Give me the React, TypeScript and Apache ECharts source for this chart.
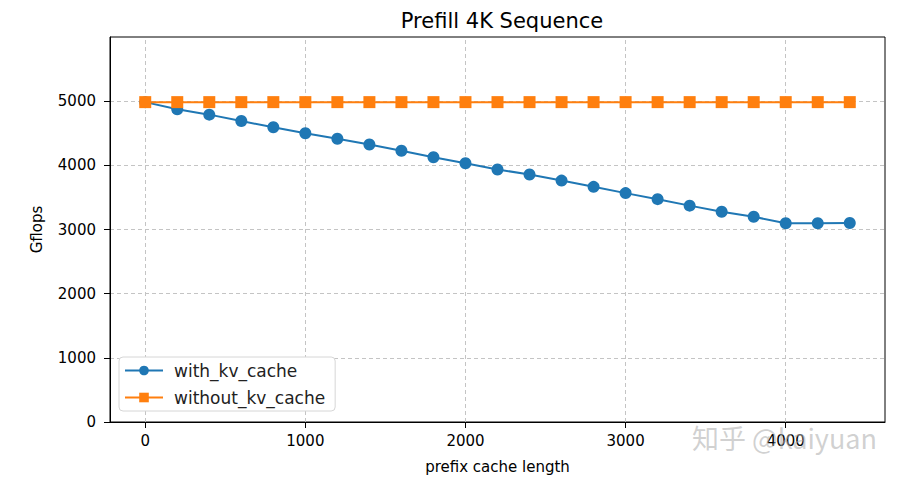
import React, { useEffect, useRef } from "react";
import * as echarts from "echarts";

// prefix cache length (x) and Gflops (y)
const prefixLengths = [
  0, 200, 400, 600, 800, 1000, 1200, 1400, 1600, 1800, 2000, 2200, 2400, 2600,
  2800, 3000, 3200, 3400, 3600, 3800, 4000, 4200, 4400,
];
const withKvCache = [
  4985, 4875, 4790, 4690, 4593, 4500, 4415, 4325, 4228, 4127, 4032, 3935, 3858,
  3762, 3665, 3567, 3473, 3372, 3276, 3198, 3097, 3097, 3102,
];
const withoutKvCache = prefixLengths.map(() => 4985);
const xTicks = [0, 1000, 2000, 3000, 4000];
const yTicks = [0, 1000, 2000, 3000, 4000, 5000];

const FONT = "DejaVu Sans";
const BLUE = "#1f77b4";
const ORANGE = "#ff7f0e";

const App: React.FC = () => {
  const ref = useRef<HTMLDivElement>(null);

  useEffect(() => {
    if (!ref.current) return;
    const chart = echarts.init(ref.current, null, { renderer: "svg" });

    const gridDash = {
      color: "#c4c4c4",
      type: [4, 3] as number[],
      width: 1,
    };

    chart.setOption({
      animation: false,
      textStyle: { fontFamily: FONT },
      title: {
        text: "Prefill 4K Sequence",
        left: 497,
        top: 5,
        textAlign: "center",
        textStyle: { fontFamily: FONT, fontSize: 21, fontWeight: "normal", color: "#000" },
      },
      grid: {
        left: 110,
        right: 14,
        top: 37,
        bottom: 59,
        show: true,
        borderColor: "#000",
        borderWidth: 1,
      },
      legend: {
        orient: "vertical",
        left: 119,
        top: 357,
        itemWidth: 38,
        itemHeight: 12,
        itemGap: 10,
        padding: [5, 10, 5, 5],
        backgroundColor: "#fff",
        borderColor: "#d6d6d6",
        borderWidth: 1,
        borderRadius: 4,
        textStyle: { fontFamily: FONT, fontSize: 17, color: "#222", padding: [0, 0, 0, 6] },
        data: ["with_kv_cache", "without_kv_cache"],
      },
      xAxis: {
        type: "value",
        min: -220,
        max: 4620,
        name: "prefix cache length",
        nameLocation: "middle",
        nameGap: 37,
        nameTextStyle: { fontFamily: FONT, fontSize: 15, color: "#000" },
        axisLine: { show: true, onZero: false, lineStyle: { color: "#000" } },
        axisTick: { show: true, length: 6, customValues: xTicks, lineStyle: { color: "#000" } },
        axisLabel: {
          customValues: xTicks,
          formatter: (v: number) => String(v),
          fontFamily: FONT,
          fontSize: 15,
          color: "#000",
          margin: 11,
        },
        splitLine: { show: false },
      },
      yAxis: {
        type: "value",
        min: 0,
        max: 6000,
        interval: 1000,
        name: "Gflops",
        nameLocation: "middle",
        nameGap: 66,
        nameTextStyle: { fontFamily: FONT, fontSize: 15, color: "#000" },
        axisLine: { show: true, onZero: false, lineStyle: { color: "#000" } },
        axisTick: { show: true, length: 6, customValues: yTicks, lineStyle: { color: "#000" } },
        axisLabel: {
          customValues: yTicks,
          formatter: (v: number) => String(v),
          fontFamily: FONT,
          fontSize: 15,
          color: "#000",
          margin: 14,
        },
        splitLine: { show: true, lineStyle: gridDash },
      },
      series: [
        {
          name: "with_kv_cache",
          type: "line",
          data: prefixLengths.map((x, i) => [x, withKvCache[i]]),
          color: BLUE,
          symbol: "circle",
          symbolSize: 12,
          lineStyle: { width: 2, color: BLUE },
          itemStyle: { color: BLUE },
          markLine: {
            silent: true,
            symbol: "none",
            label: { show: false },
            lineStyle: gridDash,
            z: 0,
            data: xTicks.map((x) => ({ xAxis: x })),
          },
        },
        {
          name: "without_kv_cache",
          type: "line",
          data: prefixLengths.map((x, i) => [x, withoutKvCache[i]]),
          color: ORANGE,
          symbol: "rect",
          symbolSize: 12,
          lineStyle: { width: 2, color: ORANGE },
          itemStyle: { color: ORANGE },
        },
      ],
      graphic: [
        {
          type: "text",
          right: 22,
          top: 424,
          z: 100,
          style: {
            text: "知乎 @kaiyuan",
            fontFamily: "Noto Sans CJK SC",
            fontSize: 27,
            fill: "rgba(170,170,170,0.55)",
          },
        },
      ],
    });

    return () => {
      chart.dispose();
    };
  }, []);

  return (
    <div
      ref={ref}
      style={{ position: "absolute", left: 0, top: 0, width: 899, height: 481 }}
    />
  );
};

export default App;
